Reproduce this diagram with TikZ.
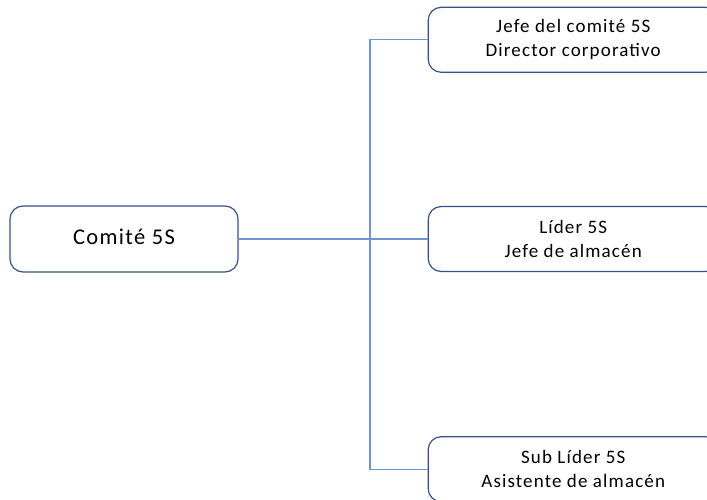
\documentclass[tikz,border=0pt]{standalone}
\usepackage{fontspec}
\setmainfont{Carlito}[LetterSpace=6]
\usepackage{xcolor}
\usepackage{tikz}
\usetikzlibrary{positioning}

\definecolor{boxline}{RGB}{58,80,134}
\definecolor{busline}{RGB}{112,148,210}

\begin{document}
\begin{tikzpicture}[x=1pt, y=1pt,
  rolebox/.style={draw=boxline, line width=1.2pt, rounded corners=13pt, align=center,
    minimum width=290pt, minimum height=65pt, font=\fontsize{19}{24}\selectfont},
  mainbox/.style={draw=boxline, line width=1.2pt, rounded corners=13pt,
    minimum width=228pt, minimum height=66pt, font=\fontsize{22.5}{26}\selectfont},
  bus/.style={draw=busline, line width=1.4pt}]
\clip (0,0) rectangle (707,-500);

\node(comite)[mainbox] at (124,-239){\raisebox{4pt}{Comité 5S}};
\node(lider)[rolebox, right = 189pt of comite]{Líder 5S\\Jefe de almacén};
\node(jefe)[rolebox, above = 133pt of lider]{Jefe del comité 5S\\Director corporativo};
\node(sub)[rolebox, below = 164pt of lider]{Sub Líder 5S\\Asistente de almacén};

\coordinate(junction) at (370,-239);

\draw[bus] (comite) -- (lider);
\draw[bus] (jefe.west) -| (junction) |- (sub.west);
\end{tikzpicture}
\end{document}
